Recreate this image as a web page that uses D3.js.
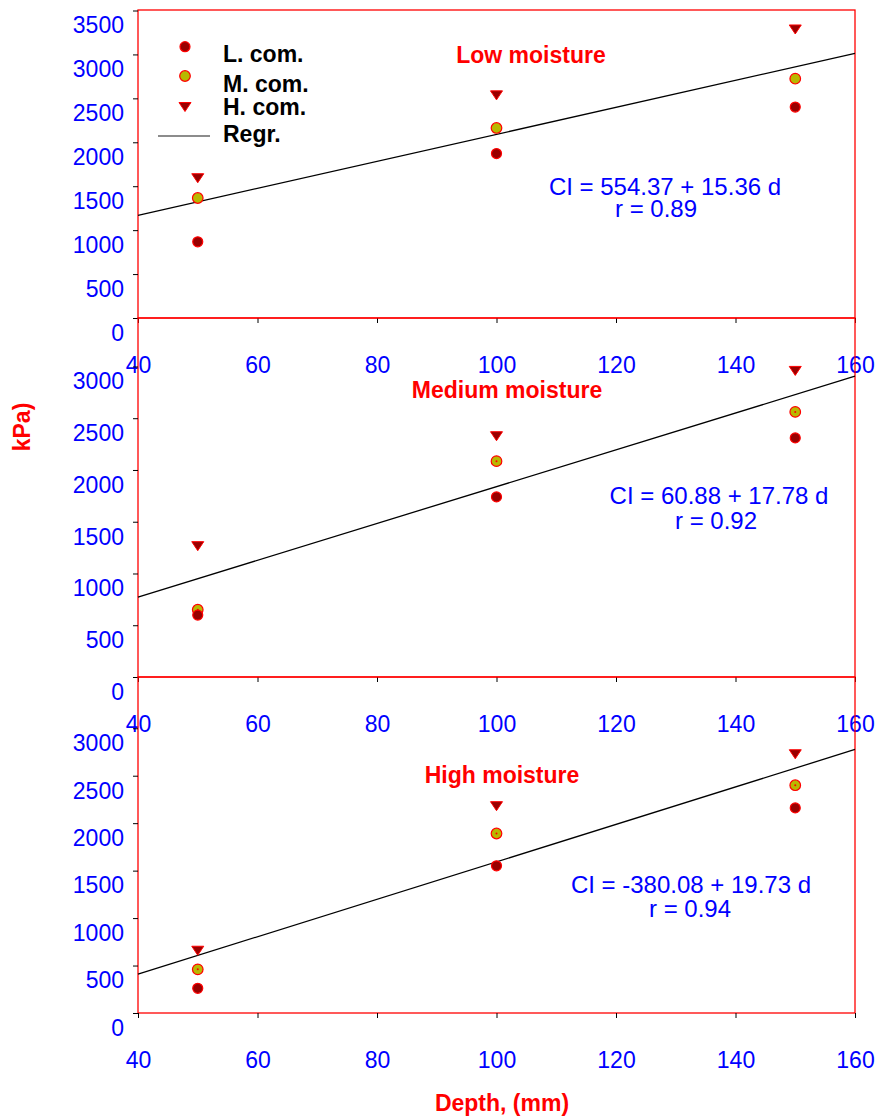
<!DOCTYPE html>
<html>
<head>
<meta charset="utf-8">
<script src="https://cdn.jsdelivr.net/npm/d3@7/dist/d3.min.js"></script>
<style>
  body { margin: 0; background: #fff; }
  svg { font-family: "Liberation Sans", Arial, sans-serif; }
</style>
</head>
<body>
<svg id="chart" width="881" height="1118"></svg>
<script>
'use strict';

// values
const depths = [50, 100, 150];
const panelTitles = ['Low moisture', 'Medium moisture', 'High moisture'];
const lowCom = [[867, 1872, 2401], [598, 1740, 2310], [260, 1551, 2161]];
const medCom = [[1366, 2163, 2724], [650, 2085, 2561], [460, 1891, 2400]];
const highCom = [[1591, 2534, 3284], [1264, 2326, 2957], [656, 2179, 2726]];
const intercepts = [554.37, 60.88, -380.08];
const slopes = [15.36, 17.78, 19.73];
const rValues = ['0.89', '0.92', '0.94'];
const xTicks = [40, 60, 80, 100, 120, 140, 160];
const yTicksTop = [0, 500, 1000, 1500, 2000, 2500, 3000, 3500];
const yTicksRest = [0, 500, 1000, 1500, 2000, 2500, 3000];
const legendLabels = ['L. com.', 'M. com.', 'H. com.', 'Regr.'];

const svg = d3.select('#chart');
const RED = '#ff0000';
const BLUE = '#0000ff';
const DARK = '#990000';
const OLIVE = '#b8b800';

// panel boxes (frame) and where 3500 falls on each y axis
const boxes = [
  { top: 10, bottom: 318, yTop: 10.5, eq: [665, 195, 656, 217], title: [531, 63] },
  { top: 318, bottom: 677, yTop: 314.7, eq: [719, 504, 716, 529], title: [507, 398] },
  { top: 677, bottom: 1013, yTop: 680.8, eq: [691, 893, 690, 917], title: [502, 783] },
];

const x = d3.scaleLinear().domain([40, 160]).range([138, 855]);

const tri = 'M-6,-4.5L6,-4.5L0,4.5Z';

function dot(g, cx, cy, fill, r, centre) {
  g.append('circle').attr('cx', cx).attr('cy', cy).attr('r', r)
    .attr('fill', fill).attr('stroke', RED).attr('stroke-width', 1.2);
  if (centre) {
    g.append('circle').attr('cx', cx).attr('cy', cy).attr('r', 1).attr('fill', RED);
  }
}

boxes.forEach((b, i) => {
  const y = d3.scaleLinear().domain([0, 3500]).range([b.bottom, b.yTop]);
  const g = svg.append('g');

  // frame
  g.append('rect')
    .attr('x', x(40)).attr('y', b.top)
    .attr('width', x(160) - x(40)).attr('height', b.bottom - b.top)
    .attr('fill', 'none').attr('stroke', RED).attr('stroke-width', 1.3);

  // y axis
  const ya = g.append('g')
    .attr('transform', `translate(${x(40)},0)`)
    .call(d3.axisLeft(y).tickValues(i === 0 ? yTicksTop : yTicksRest)
      .tickSize(5).tickPadding(9).tickFormat(d3.format('d')));
  ya.select('.domain').remove();
  ya.selectAll('line').attr('stroke', '#000');
  ya.selectAll('text').attr('y', 15).attr('fill', BLUE).style('font-size', '23px');

  // x axis
  const xa = g.append('g')
    .attr('transform', `translate(0,${b.bottom})`)
    .call(d3.axisBottom(x).tickValues(xTicks).tickSize(5).tickPadding(34));
  xa.select('.domain').remove();
  xa.selectAll('line').attr('stroke', '#000');
  xa.selectAll('text').attr('fill', BLUE).style('font-size', '23px');

  // regression line
  const line = d3.line().x(d => x(d)).y(d => y(intercepts[i] + slopes[i] * d));
  g.append('path').datum([40, 160]).attr('d', line)
    .attr('fill', 'none').attr('stroke', '#000').attr('stroke-width', 1.3);

  // points
  depths.forEach((d, j) => {
    g.append('path').attr('d', tri)
      .attr('transform', `translate(${x(d)},${y(highCom[i][j])})`)
      .attr('fill', DARK).attr('stroke', RED).attr('stroke-width', 1);
    dot(g, x(d), y(medCom[i][j]), OLIVE, 5.3, i > 0);
    dot(g, x(d), y(lowCom[i][j]), DARK, 5, false);
  });

  // title
  g.append('text').attr('x', b.title[0]).attr('y', b.title[1])
    .attr('text-anchor', 'middle').attr('fill', RED)
    .style('font-size', '23px').style('font-weight', 'bold')
    .text(panelTitles[i]);

  // equation
  const sign = intercepts[i] < 0 ? '-' : '';
  g.append('text').attr('x', b.eq[0]).attr('y', b.eq[1])
    .attr('text-anchor', 'middle').attr('fill', BLUE).style('font-size', '24px')
    .text(`CI = ${sign}${Math.abs(intercepts[i]).toFixed(2)} + ${slopes[i].toFixed(2)} d`);
  g.append('text').attr('x', b.eq[2]).attr('y', b.eq[3])
    .attr('text-anchor', 'middle').attr('fill', BLUE).style('font-size', '24px')
    .text(`r = ${rValues[i]}`);
});

// legend
const lg = svg.append('g');
const legY = [46.7, 76, 107, 136];
const legTextY = [62, 92, 115, 142];
dot(lg, 185, legY[0], DARK, 5, false);
dot(lg, 185, legY[1], OLIVE, 5.3, false);
lg.append('path').attr('d', tri).attr('transform', `translate(185,${legY[2]})`)
  .attr('fill', DARK).attr('stroke', RED).attr('stroke-width', 1);
lg.append('line').attr('x1', 158).attr('x2', 210).attr('y1', legY[3]).attr('y2', legY[3])
  .attr('stroke', '#666').attr('stroke-width', 1.5);
legendLabels.forEach((t, k) => {
  lg.append('text').attr('x', 223).attr('y', legTextY[k])
    .style('font-size', '23px').style('font-weight', 'bold').attr('fill', '#000')
    .text(t);
});

// axis titles
svg.append('text')
  .attr('transform', 'translate(30,427) rotate(-90)')
  .attr('text-anchor', 'middle').attr('fill', RED)
  .style('font-size', '23px').style('font-weight', 'bold')
  .text('kPa)');
svg.append('text')
  .attr('x', 502).attr('y', 1111)
  .attr('text-anchor', 'middle').attr('fill', RED)
  .style('font-size', '23px').style('font-weight', 'bold')
  .text('Depth, (mm)');
</script>
</body>
</html>
